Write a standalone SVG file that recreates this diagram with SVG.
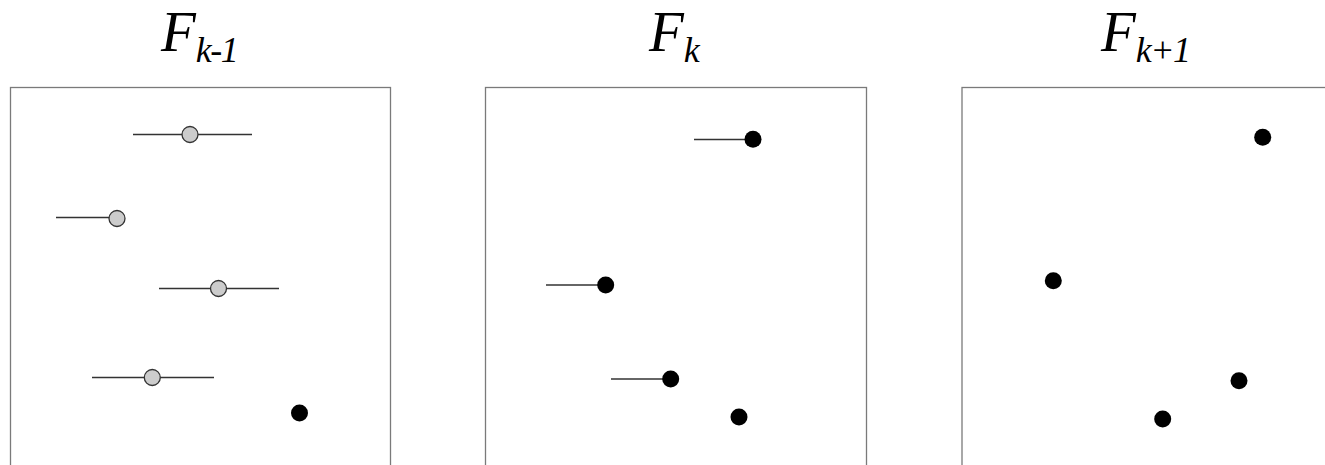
<svg xmlns="http://www.w3.org/2000/svg" width="1325" height="465" viewBox="0 0 1325 465">
<style>
.frame{fill:none;stroke:#7a7a7a;stroke-width:1.3}
.title{font-family:'Liberation Serif','Times New Roman',serif;font-style:italic;font-size:57px;fill:#000}
.sub{font-size:36px;letter-spacing:-1.5px}
.bar{stroke:#333;stroke-width:1.3}
.old{fill:#cccccc;stroke:#333;stroke-width:1.3}
.new{fill:#000}
</style>
<rect width="1325" height="465" fill="#fff"/>
<g id="panel-k-1">
<rect class="frame" x="10.5" y="87.5" width="380" height="400"/>
<text class="title" x="161" y="51">F<tspan class="sub" dy="11">k-1</tspan></text>
</g>
<g id="panel-k">
<rect class="frame" x="485.5" y="87.5" width="381" height="400"/>
<text class="title" x="649" y="51">F<tspan class="sub" dy="11">k</tspan></text>
</g>
<g id="panel-k+1">
<rect class="frame" x="962" y="87.5" width="400" height="400"/>
<text class="title" x="1101" y="51">F<tspan class="sub" dy="11">k+1</tspan></text>
</g>
<g id="connectors">
<line class="bar" x1="133" y1="134.5" x2="252" y2="134.5"/>
<line class="bar" x1="56" y1="217.5" x2="117" y2="217.5"/>
<line class="bar" x1="159" y1="288.5" x2="279" y2="288.5"/>
<line class="bar" x1="92" y1="377.5" x2="214" y2="377.5"/>
<line class="bar" x1="694" y1="139.5" x2="753" y2="139.5"/>
<line class="bar" x1="546" y1="285" x2="606" y2="285"/>
<line class="bar" x1="611" y1="379" x2="671" y2="379"/>
</g>
<g id="dots-k-1">
<circle class="old" cx="190" cy="134.5" r="8"/>
<circle class="old" cx="117" cy="218.5" r="8"/>
<circle class="old" cx="218.5" cy="288.5" r="8"/>
<circle class="old" cx="152.3" cy="377.5" r="8"/>
<circle class="new" cx="299.5" cy="413" r="8.5"/>
</g>
<g id="dots-k">
<circle class="new" cx="753" cy="139.3" r="8.5"/>
<circle class="new" cx="605.7" cy="285" r="8.5"/>
<circle class="new" cx="670.7" cy="379" r="8.5"/>
<circle class="new" cx="739" cy="417" r="8.5"/>
</g>
<g id="dots-k+1">
<circle class="new" cx="1262.7" cy="137.3" r="8.5"/>
<circle class="new" cx="1053.3" cy="280.7" r="8.5"/>
<circle class="new" cx="1239" cy="380.7" r="8.5"/>
<circle class="new" cx="1162.7" cy="419" r="8.5"/>
</g>
</svg>
